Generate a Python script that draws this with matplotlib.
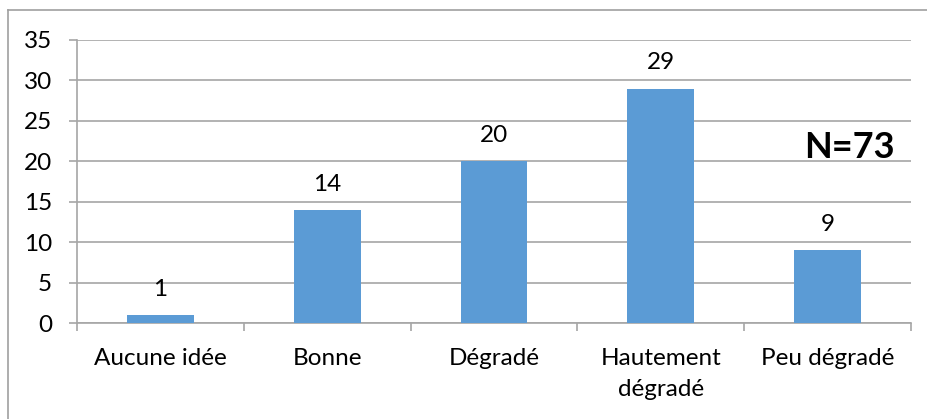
import matplotlib
matplotlib.use('Agg')
from matplotlib import pyplot as plt
from matplotlib.lines import Line2D

# données du graphique
categories = ['Aucune idée', 'Bonne', 'Dégradé', 'Hautement\ndégradé', 'Peu dégradé']
valeurs = [1, 14, 20, 29, 9]
y_ticks = [0, 5, 10, 15, 20, 25, 30, 35]
total_label = 'N=73'

plt.rcParams['font.family'] = ['Lato', 'DejaVu Sans']

fig = plt.figure(figsize=(9.28, 4.19), dpi=100)
ax = fig.add_axes([77 / 928, 1 - 323 / 419, (911 - 77) / 928, (323 - 40) / 419])

x = list(range(len(categories)))
bars = ax.bar(x, valeurs, width=0.4, color='#5B9BD5', zorder=3)
ax.bar_label(bars, labels=[str(v) for v in valeurs], padding=11, fontsize=17.5)

ax.set_xlim(-0.5, len(categories) - 0.5)
ax.set_ylim(0, 35)
ax.set_yticks(y_ticks)
ax.yaxis.grid(True, color='#A6A6A6', linewidth=1.2, zorder=0)

# ticks aux limites des catégories
ax.set_xticks(x)
ax.set_xticklabels(categories, fontsize=17.5, linespacing=1.6)
ax.set_xticks([i - 0.5 for i in range(len(categories) + 1)], minor=True)
ax.tick_params(axis='x', which='major', length=0, pad=18)
ax.tick_params(axis='x', which='minor', length=6, color='#A6A6A6', width=1.2)
ax.tick_params(axis='y', length=6, color='#A6A6A6', width=1.2, labelsize=17.5, pad=12)

for side in ['top', 'right']:
    ax.spines[side].set_visible(False)
for side in ['left', 'bottom']:
    ax.spines[side].set_color('#A6A6A6')
    ax.spines[side].set_linewidth(1.2)

ax.text(4.4, 20.4, total_label, ha='right', va='baseline', fontsize=26, fontweight='bold')

# cadre du graphique
fig.add_artist(Line2D([8 / 928, 8 / 928], [0, 1 - 10 / 419], color='#A0A0A0', linewidth=1.2))
fig.add_artist(Line2D([8 / 928, 1], [1 - 10 / 419, 1 - 10 / 419], color='#A0A0A0', linewidth=1.2))

fig.savefig('out.png', dpi=100)
